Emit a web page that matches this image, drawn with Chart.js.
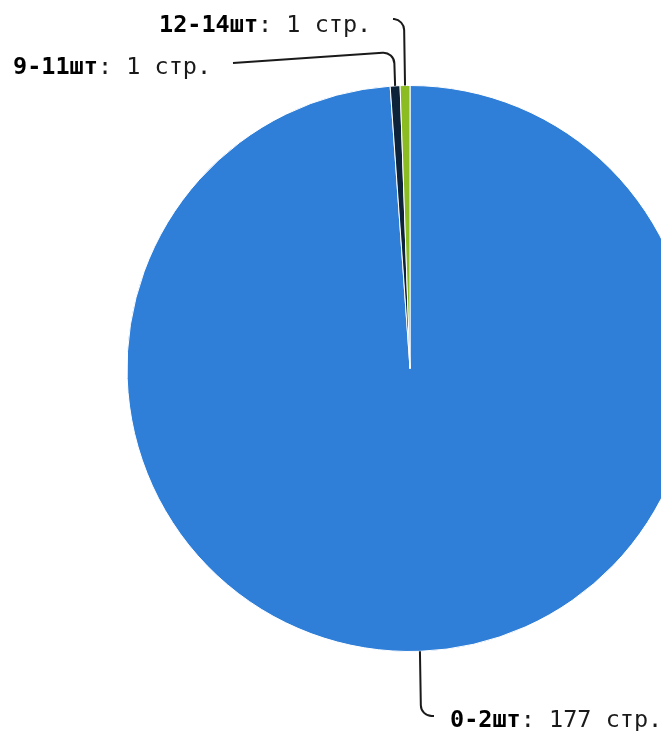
<!DOCTYPE html>
<html>
<head>
<meta charset="utf-8">
<script src="https://cdn.jsdelivr.net/npm/chart.js@4/dist/chart.umd.min.js"></script>
<style>
    html, body { margin: 0; padding: 0; background: #fff; overflow: hidden; }
    #wrap { width: 661px; height: 731px; overflow: hidden; }
</style>
</head>
<body>
<div id="wrap"><canvas id="pie-canvas" width="820" height="731"></canvas></div>
<script>
// Chart data
const categories = ['0-2шт', '9-11шт', '12-14шт'];
const pageCounts = [177, 1, 1];
const sliceColors = ['#2f7ed8', '#0d233a', '#8bbc21'];

// Label placement (layout only): text position, connector start and bend point
const labelLayout = [
    { textX: 450, baseline: 727, start: [434, 716], corner: [421, 716] },
    { textX: 13, baseline: 74, start: [233, 63], corner: [394, 52] },
    { textX: 159, baseline: 32, start: [393, 19], corner: [404, 20] }
];

const FONT = '"DejaVu Sans Mono", monospace';
const FONT_SIZE = 23.5;

const pieLabelsPlugin = {
    id: 'pieLabels',
    afterDatasetsDraw(chart) {
        const ctx = chart.ctx;
        const meta = chart.getDatasetMeta(0);
        ctx.save();
        meta.data.forEach((arc, i) => {
            const p = arc.getProps(['x', 'y', 'startAngle', 'endAngle', 'outerRadius'], true);
            const mid = (p.startAngle + p.endAngle) / 2;
            const ax = p.x + Math.cos(mid) * p.outerRadius;
            const ay = p.y + Math.sin(mid) * p.outerRadius;
            const lay = labelLayout[i];

            // connector
            ctx.beginPath();
            ctx.strokeStyle = '#1a1a1a';
            ctx.lineWidth = 2;
            ctx.moveTo(lay.start[0], lay.start[1]);
            ctx.arcTo(lay.corner[0], lay.corner[1], ax, ay, 11);
            ctx.lineTo(ax, ay);
            ctx.stroke();

            // label text
            const boldPart = categories[i];
            const rest = ': ' + pageCounts[i] + ' стр.';
            ctx.textBaseline = 'alphabetic';
            ctx.fillStyle = '#000';
            ctx.font = 'bold ' + FONT_SIZE + 'px ' + FONT;
            ctx.fillText(boldPart, lay.textX, lay.baseline);
            const w = ctx.measureText(boldPart).width;
            ctx.font = FONT_SIZE + 'px ' + FONT;
            ctx.fillStyle = '#1a1a1a';
            ctx.fillText(rest, lay.textX + w, lay.baseline);
        });
        ctx.restore();
    }
};

document.addEventListener('DOMContentLoaded', function() {
    const ctx = document.getElementById('pie-canvas');
    new Chart(ctx, {
        type: 'pie',
        data: {
            labels: categories,
            datasets: [{
                data: pageCounts,
                backgroundColor: sliceColors,
                borderColor: '#ffffff',
                borderWidth: 1
            }]
        },
        options: {
            responsive: false,
            animation: false,
            layout: {
                padding: { top: 85, bottom: 79, left: 0, right: 0 }
            },
            plugins: {
                legend: { display: false },
                tooltip: { enabled: false }
            }
        },
        plugins: [pieLabelsPlugin]
    });
});
</script>
</body>
</html>
